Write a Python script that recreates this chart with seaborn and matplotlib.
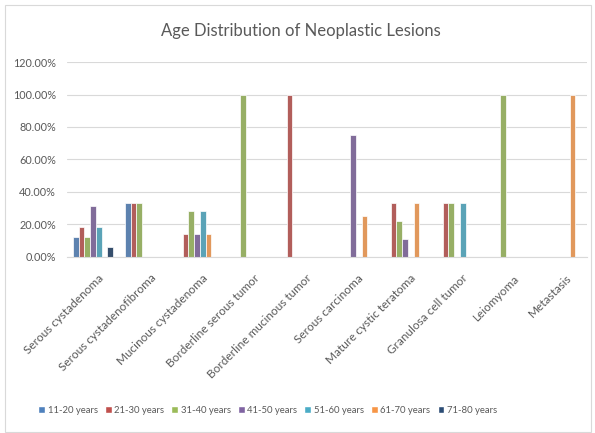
import matplotlib
matplotlib.use("Agg")
import matplotlib.pyplot as plt
import matplotlib.patches as mpatches
import matplotlib.transforms as mtransforms
import seaborn as sns
import pandas as pd

categories = ["Serous cystadenoma", "Serous cystadenofibroma", "Mucinous cystadenoma",
              "Borderline serous tumor", "Borderline mucinous tumor", "Serous carcinoma",
              "Mature cystic teratoma", "Granulosa cell tumor", "Leiomyoma", "Metastasis"]
age_groups = ["11-20 years", "21-30 years", "31-40 years", "41-50 years",
              "51-60 years", "61-70 years", "71-80 years"]
age_11_20 = [12.5, 33.33, 0, 0, 0, 0, 0, 0, 0, 0]
age_21_30 = [18.75, 33.33, 14.29, 0, 100, 0, 33.33, 33.33, 0, 0]
age_31_40 = [12.5, 33.33, 28.57, 100, 0, 0, 22.22, 33.33, 100, 0]
age_41_50 = [31.25, 0, 14.29, 0, 0, 75, 11.11, 0, 0, 0]
age_51_60 = [18.75, 0, 28.57, 0, 0, 0, 0, 33.33, 0, 0]
age_61_70 = [0, 0, 14.29, 0, 0, 25, 33.33, 0, 0, 100]
age_71_80 = [6.25, 0, 0, 0, 0, 0, 0, 0, 0, 0]
series = [age_11_20, age_21_30, age_31_40, age_41_50, age_51_60, age_61_70, age_71_80]
colors = ["#4F81BD", "#C0504D", "#9BBB59", "#8064A2", "#4BACC6", "#F79646", "#2C4D75"]

rows = []
for g, vals in zip(age_groups, series):
    for c, v in zip(categories, vals):
        rows.append({"Lesion": c, "Age": g, "Pct": v})
df = pd.DataFrame(rows)

sns.set_style("white")
plt.rcParams["font.family"] = ["Lato", "DejaVu Sans"]
txt = "#595959"

fig = plt.figure(figsize=(5.95, 4.33), dpi=100)
ax = fig.add_axes([0.1126, 0.4065, 0.874, 0.4503])
sns.barplot(data=df, x="Lesion", y="Pct", hue="Age", order=categories,
            hue_order=age_groups, palette=colors, width=0.77, ax=ax,
            edgecolor="white", linewidth=0.5, legend=False, errorbar=None)

ax.set_ylim(0, 120)
ax.set_xlim(-0.5, 9.5)
ax.tick_params(axis="y", length=0, pad=8)
ax.tick_params(axis="x", length=0, pad=11)
ax.set_yticks(range(0, 121, 20))
ax.set_yticklabels([f"{v:.2f}%" for v in range(0, 121, 20)], fontsize=7.8, color=txt)
ax.set_xticks(range(len(categories)))
ax.set_xticklabels(categories, rotation=45, ha="right", rotation_mode="anchor",
                   fontsize=8.5, color=txt)
shift = mtransforms.ScaledTranslation(5 / 100, 0, fig.dpi_scale_trans)
for lbl in ax.get_xticklabels():
    lbl.set_transform(lbl.get_transform() + shift)
ax.set_xlabel("")
ax.set_ylabel("")
ax.yaxis.grid(True, color="#D9D9D9", linewidth=0.8)
ax.set_axisbelow(True)
for s in ["top", "right", "left"]:
    ax.spines[s].set_visible(False)
ax.spines["bottom"].set_color("#D9D9D9")
ax.spines["bottom"].set_linewidth(0.8)

fig.text(0.505, 0.928, "Age Distribution of Neoplastic Lesions", ha="center", va="center",
         fontsize=12, color=txt)

handles = [mpatches.Patch(facecolor=c, label=g) for c, g in zip(colors, age_groups)]
fig.legend(handles=handles, loc="center", bbox_to_anchor=(0.45, 0.053), ncol=7,
           frameon=False, fontsize=6.8, handlelength=0.7, handleheight=0.7,
           handletextpad=0.3, columnspacing=0.75, labelcolor=txt)

border = mpatches.Rectangle((0.008, 0.003), 0.986, 0.985, transform=fig.transFigure,
                            fill=False, edgecolor="#D9D9D9", linewidth=0.8)
fig.patches.append(border)

fig.savefig("out.png", dpi=100)
